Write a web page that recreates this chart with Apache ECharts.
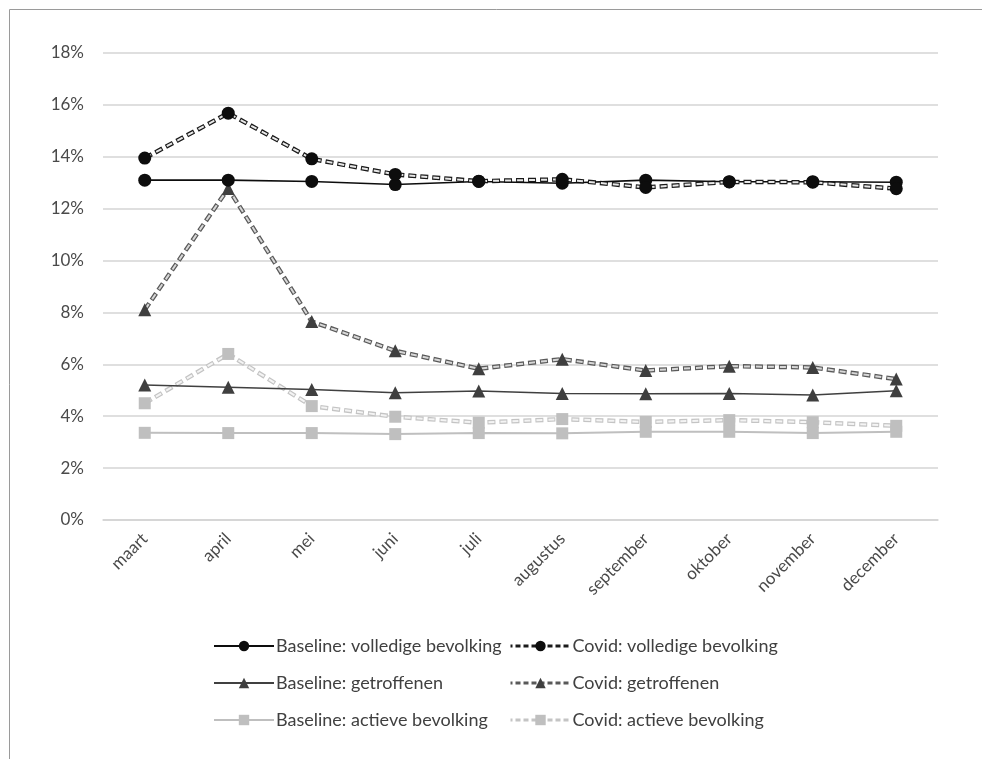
<!DOCTYPE html>
<html>
<head>
<meta charset="utf-8">
<script src="https://cdn.jsdelivr.net/npm/echarts@6/dist/echarts.min.js"></script>
<style>
html,body{margin:0;padding:0;background:#fff;}
#chart{width:982px;height:759px;}
</style>
</head>
<body>
<div id="chart"></div>
<script>
const categories = ['maart','april','mei','juni','juli','augustus','september','oktober','november','december'];
const baseVolledig = [13.1, 13.1, 13.05, 12.93, 13.05, 12.98, 13.1, 13.04, 13.04, 13.02];
const covidVolledig = [13.95, 15.68, 13.92, 13.32, 13.06, 13.13, 12.82, 13.03, 13.02, 12.77];
const baseGetroffenen = [5.2, 5.12, 5.03, 4.9, 4.97, 4.88, 4.87, 4.88, 4.82, 4.98];
const covidGetroffenen = [8.1, 12.78, 7.65, 6.52, 5.83, 6.2, 5.76, 5.93, 5.88, 5.43];
const baseActieve = [3.36, 3.35, 3.35, 3.31, 3.35, 3.34, 3.4, 3.4, 3.35, 3.4];
const covidActieve = [4.5, 6.4, 4.39, 3.98, 3.75, 3.89, 3.78, 3.85, 3.77, 3.63];
const yTicks = [0, 18, 2]; // min, max, interval (percent)

const names = {
  bV: 'Baseline: volledige bevolking',
  cV: 'Covid: volledige bevolking',
  bG: 'Baseline: getroffenen',
  cG: 'Covid: getroffenen',
  bA: 'Baseline: actieve bevolking',
  cA: 'Covid: actieve bevolking'
};

const FONT = 'Lato';
const chart = echarts.init(document.getElementById('chart'), null, {renderer: 'canvas'});

function baseSeries(name, data, color, symbol, size, symColor, width) {
  return {
    name, type: 'line', data, z: 3,
    symbol, symbolSize: size, showSymbol: true,
    itemStyle: {color: symColor, borderWidth: 0},
    lineStyle: {color, width, type: 'solid'},
    emphasis: {disabled: true}
  };
}
function outerSeries(data, color) {
  return {
    name: '_outer', type: 'line', data, z: 2, silent: true,
    showSymbol: false, symbol: 'none',
    lineStyle: {color, width: 4.5, type: [8, 4], cap: 'butt'},
    emphasis: {disabled: true}
  };
}
function innerSeries(name, data, inner, symbol, size, symColor) {
  return {
    name, type: 'line', data, z: 3,
    symbol, symbolSize: size, showSymbol: true,
    itemStyle: {color: symColor, borderWidth: 0},
    lineStyle: {color: inner, width: 2, type: [6, 6], dashOffset: 11, cap: 'butt'},
    emphasis: {disabled: true}
  };
}

const legendCommon = {
  orient: 'vertical', itemWidth: 60, itemHeight: 13, itemGap: 19,
  textStyle: {fontFamily: FONT, fontSize: 18, color: '#404040', padding: [0, 0, 0, -3]},
  selectedMode: false
};

chart.setOption({
  animation: false,
  backgroundColor: '#fff',
  textStyle: {fontFamily: FONT},
  graphic: [{
    type: 'rect', silent: true, z: 100,
    shape: {x: 9.5, y: 9.5, width: 1200, height: 1000},
    style: {fill: 'none', stroke: '#9a9a9a', lineWidth: 1}
  }],
  grid: {left: 103, right: 44, top: 53, bottom: 239, containLabel: false},
  legend: [
    Object.assign({}, legendCommon, {
      left: 208, top: 632,
      data: [names.bV, names.bG, names.bA]
    }),
    Object.assign({}, legendCommon, {
      left: 504, top: 632,
      data: [
        {name: names.cV, lineStyle: {color: '#1a1a1a', width: 3, type: [5, 3]}},
        {name: names.cG, lineStyle: {color: '#595959', width: 3, type: [5, 3]}},
        {name: names.cA, lineStyle: {color: '#c4c4c4', width: 3, type: [5, 3]}}
      ]
    })
  ],
  xAxis: {
    type: 'category', data: categories, boundaryGap: true,
    axisLine: {show: true, lineStyle: {color: '#d4d4d4', width: 1.5}},
    axisTick: {show: false},
    axisLabel: {rotate: 45, margin: 16, fontFamily: FONT, fontSize: 17, color: '#4a4a4a', interval: 0},
    splitLine: {show: false}
  },
  yAxis: {
    type: 'value', min: yTicks[0], max: yTicks[1], interval: yTicks[2],
    axisLine: {show: false}, axisTick: {show: false},
    axisLabel: {formatter: '{value}%', margin: 19, fontFamily: FONT, fontSize: 17, color: '#4a4a4a'},
    splitLine: {show: true, lineStyle: {color: '#d4d4d4', width: 1.5}}
  },
  series: [
    baseSeries(names.bA, baseActieve, '#bfbfbf', 'rect', 12, '#bfbfbf', 2),
    outerSeries(covidActieve, '#c4c4c4'),
    innerSeries(names.cA, covidActieve, '#f4f4f4', 'rect', 12, '#bfbfbf'),
    baseSeries(names.bG, baseGetroffenen, '#404040', 'triangle', 13, '#3f3f3f', 1.5),
    outerSeries(covidGetroffenen, '#5a5a5a'),
    innerSeries(names.cG, covidGetroffenen, '#d8d8d8', 'triangle', 13, '#3f3f3f'),
    baseSeries(names.bV, baseVolledig, '#0d0d0d', 'circle', 13, '#0d0d0d', 1.6),
    outerSeries(covidVolledig, '#1a1a1a'),
    innerSeries(names.cV, covidVolledig, '#e8e8e8', 'circle', 13, '#0d0d0d')
  ]
});
</script>
</body>
</html>
